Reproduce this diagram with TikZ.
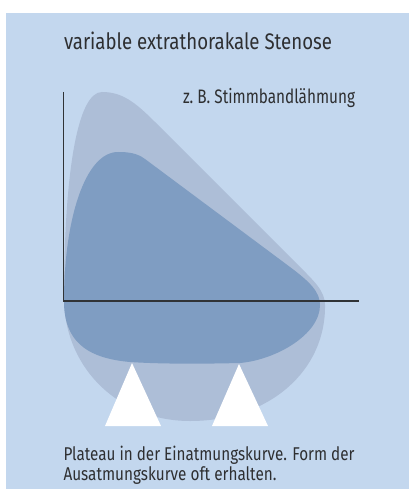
\documentclass[tikz,border=0pt]{standalone}
\usepackage{fontspec}
\setmainfont{Fira Sans}
\usepackage{graphicx}
\definecolor{bg}{HTML}{C3D7EE}
\definecolor{outerc}{HTML}{ADBED7}
\definecolor{innerc}{HTML}{7F9DC2}
\definecolor{txt}{HTML}{2E2F31}
\definecolor{axc}{HTML}{303336}
\begin{document}
\begin{tikzpicture}[x=1pt,y=-1pt,
  lbl/.style={anchor=base west, inner sep=0pt, outer sep=0pt, text=txt},
  axisline/.style={draw=axc, line width=1.8pt, line join=miter},
  pointer/.style={fill=white}]
\useasboundingbox (0,0) rectangle (409,489);
\fill[white] (0,0) rectangle (409,489);
\fill[bg] (6,13) rectangle (409,489);
% outer (lighter) loop
\fill[outerc] (64,301) .. controls (64,170) and (78,92) .. (102,92)
  .. controls (122,92) and (135,102) .. (155,122) -- (298,265)
  .. controls (314,281) and (325,291) .. (325,305)
  .. controls (326,370) and (270,421) .. (190,421)
  .. controls (120,421) and (66,370) .. (64,301) -- cycle;
% inner (darker) loop
\fill[innerc] (64,301) .. controls (64,220) and (85,152) .. (118,152)
  .. controls (128,152) and (137,153) .. (145,159) -- (290,267)
  .. controls (310,282) and (320,292) .. (320,305)
  .. controls (320,335) and (275,360) .. (240,363)
  .. controls (200,364) and (160,364) .. (130,362)
  .. controls (85,358) and (64,340) .. (64,301) -- cycle;
% white triangles
\fill[pointer] (132,363) -- (161,426) -- (105,426) -- cycle;
\fill[pointer] (239,364) -- (268,426) -- (212,426) -- cycle;
% axes
\coordinate (ytop) at (63.5,92);
\coordinate (origin) at (63.5,301);
\coordinate (xend) at (359,301);
\draw[axisline] (ytop) -- (origin) -- (xend);
% texts
\node[lbl] (title) at (64,50) {\resizebox{268pt}{\height}{\fontsize{22.5}{26}\selectfont variable extrathorakale Stenose}};
\node[lbl] (sub) at (183,104) {\resizebox{172pt}{\height}{\fontsize{19.5}{23}\selectfont z.\ B. Stimmbandlähmung}};
\node[lbl] (cap1) at (63.5,460) {\resizebox{291pt}{\height}{\fontsize{18.5}{22}\selectfont Plateau in der Einatmungskurve. Form der}};
\node[lbl] (cap2) at (63.5,480.7) {\resizebox{213pt}{\height}{\fontsize{18.5}{22}\selectfont Ausatmungskurve oft erhalten.}};
\end{tikzpicture}
\end{document}
